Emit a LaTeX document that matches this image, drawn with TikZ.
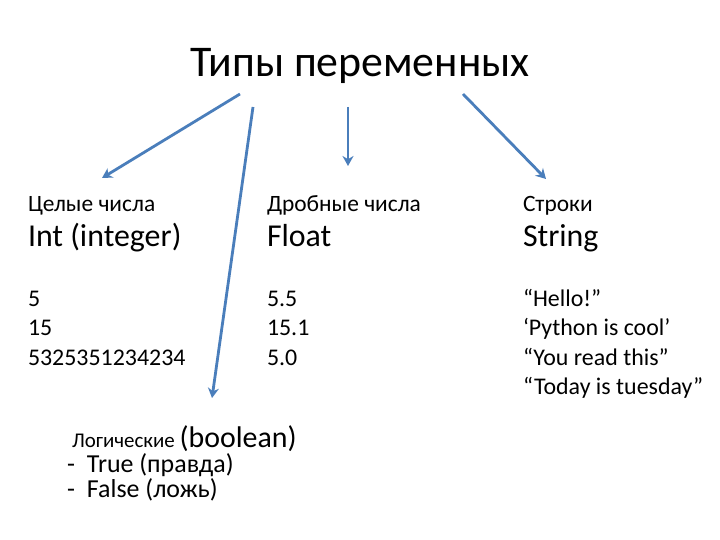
\documentclass[tikz,border=0pt]{standalone}
\usepackage{fontspec}
\setmainfont{Carlito}
\usetikzlibrary{arrows.meta}
\definecolor{arrowblue}{HTML}{4A7EBB}
\tikzset{
  txt/.style={anchor=base west, inner sep=0pt, outer sep=0pt},
  hdr/.style={txt, font=\fontsize{23.5}{28}\selectfont},
  typ/.style={txt, font=\fontsize{32}{38}\selectfont},
  val/.style={txt, font=\fontsize{24}{29}\selectfont},
  boolitem/.style={txt, font=\fontsize{26}{30}\selectfont},
  arr/.style={draw=arrowblue, line width=2.8bp, -{Stealth[length=10bp,width=11bp]}},
}
\begin{document}
\begin{tikzpicture}[x=1bp,y=-1bp]
\useasboundingbox[fill=white] (0,0) rectangle (720,540);
% title
\node[txt, anchor=base, font=\fontsize{44}{52}\selectfont] (title) at (360,77) {Типы переменных};
% headers
\node[hdr] (h1) at (28,212) {Целые числа};
\node[hdr] (h2) at (267,212) {Дробные числа};
\node[hdr] (h3) at (523,212) {Строки};
\node[typ] (t1) at (28,247) {Int (integer)};
\node[typ] (t2) at (267,247) {Float};
\node[typ] (t3) at (523,247) {String};
% values
\node[val] (v1) at (28,306) {5};
\node[val] (v1b) at (28,335.5) {15};
\node[val] (v1c) at (28,365) {5325351234234};
\node[val] (v2) at (267,306) {5.5};
\node[val] (v2b) at (267,335.5) {15.1};
\node[val] (v2c) at (267,365) {5.0};
\node[val] (v3) at (523,306) {“Hello!”};
\node[val] (v3b) at (523,335.5) {‘Python is cool’};
\node[val] (v3c) at (523,365) {“You read this”};
\node[val] (v3d) at (523,394.5) {“Today is tuesday”};
% boolean
\node[txt] (b1) at (72,447) {\fontsize{21}{25}\selectfont Логические \fontsize{30}{36}\selectfont(boolean)};
\node[boolitem] (b2) at (67,472) {\makebox[20bp][l]{-}True (правда)};
\node[boolitem] (b3) at (67,497) {\makebox[20bp][l]{-}False (ложь)};
% arrows
\coordinate (s1) at (240,94);  \coordinate (e1) at (102,178);
\coordinate (s2) at (253,107); \coordinate (e2) at (212,398);
\coordinate (s3) at (348,107); \coordinate (e3) at (348,166);
\coordinate (s4) at (463,94);  \coordinate (e4) at (546,179);
\draw[arr] (s1) -- (e1);
\draw[arr] (s2) -- (e2);
\draw[arr] (s3) -- (e3);
\draw[arr] (s4) -- (e4);
\end{tikzpicture}
\end{document}
